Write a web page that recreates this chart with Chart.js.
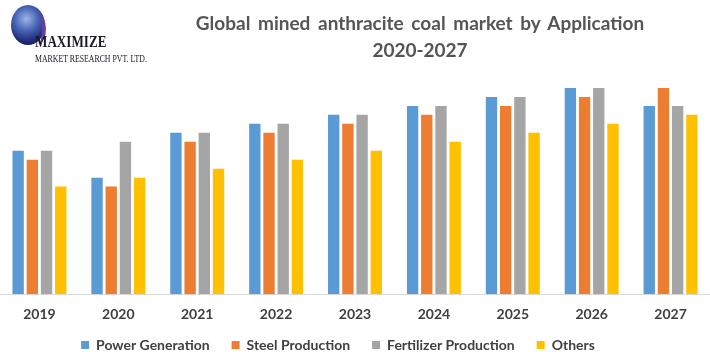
<!DOCTYPE html>
<html>
<head>
<meta charset="utf-8">
<script src="https://cdn.jsdelivr.net/npm/chart.js@4"></script>
<style>
  html, body { margin: 0; padding: 0; background: #fff; }
  #wrap { position: relative; width: 710px; height: 361px; overflow: hidden; }
  #title {
    position: absolute; left: 130px; width: 580px; top: 9px;
    text-align: center; font: bold 19px Lato, sans-serif; color: #555555;
    line-height: 27px; word-spacing: 3px;
  }
  #globe {
    position: absolute; left: 11px; top: 5px; width: 34px; height: 40px; border-radius: 50%;
    background: radial-gradient(circle at 45% 35%, #9fb6e6 0%, #4a68b8 35%, #1d2a78 70%, #10163f 100%);
  }
  #swoosh {
    position: absolute; left: 30px; top: 14px; width: 16px; height: 30px; border-radius: 50%;
    border-right: 4px solid #6a3f9a; box-sizing: border-box;
  }
  #brand1 {
    position: absolute; left: 35px; top: 33px; font: bold 16px "Liberation Serif", serif;
    color: #1a1a2a; transform: scaleX(0.82); transform-origin: left;
  }
  #brand2 {
    position: absolute; left: 35px; top: 53px; font: 10px "Liberation Serif", serif;
    color: #1a1a2a; transform: scaleX(0.78); transform-origin: left;
  }
  canvas { position: absolute; left: 0; top: 0; }
</style>
</head>
<body>
<div id="wrap">
  <canvas id="c" width="710" height="361"></canvas>
  <div id="globe"></div>
  <div id="swoosh"></div>
  <div id="brand1">MAXIMIZE</div>
  <div id="brand2">MARKET RESEARCH PVT. LTD.</div>
  <div id="title">Global mined anthracite coal market by Application<br>2020-2027</div>
</div>
<script>
const years = ['2019', '2020', '2021', '2022', '2023', '2024', '2025', '2026', '2027'];
const powerGeneration = [16, 13, 18, 19, 20, 21, 22, 23, 21];
const steelProduction = [15, 12, 17, 18, 19, 20, 21, 22, 23];
const fertilizerProduction = [16, 17, 18, 19, 20, 21, 22, 23, 21];
const others = [12, 13, 14, 15, 16, 17, 18, 19, 20];

const blue = '#5B9BD5';
const orange = '#ED7D31';
const gray = '#A5A5A5';
const yellow = '#FFC000';
const textCol = '#404040';

// wider gaps between legend items without a taller legend box
const legendTweak = {
  id: 'legendTweak',
  afterInit(chart) {
    const lg = chart.legend;
    const fit = lg.fit;
    lg.fit = function () { fit.call(this); this.height = 34; };
  },
  afterLayout(chart) {
    const lg = chart.legend;
    lg.top -= 11; lg.bottom -= 11;
    lg.left -= 17; lg.right -= 17;
  }
};

new Chart(document.getElementById('c'), {
  type: 'bar',
  data: {
    labels: years,
    datasets: [
      { label: 'Power Generation', data: powerGeneration, backgroundColor: blue },
      { label: 'Steel Production', data: steelProduction, backgroundColor: orange },
      { label: 'Fertilizer Production', data: fertilizerProduction, backgroundColor: gray },
      { label: 'Others', data: others, backgroundColor: yellow }
    ]
  },
  options: {
    responsive: false,
    animation: false,
    layout: { padding: { top: 79, left: 0, right: 0, bottom: 0 } },
    datasets: { bar: { categoryPercentage: 0.72, barPercentage: 0.8 } },
    plugins: {
      title: { display: false },
      tooltip: { enabled: false },
      legend: {
        position: 'bottom',
        labels: {
          boxWidth: 8, boxHeight: 8, padding: 22,
          color: textCol,
          font: { family: 'Lato', size: 14, weight: 'bold' }
        }
      }
    },
    scales: {
      x: {
        grid: { display: false },
        border: { color: '#D9D9D9', width: 1 },
        ticks: { color: textCol, padding: 4, font: { family: 'Lato', size: 14, weight: 'bold' } }
      },
      y: {
        display: false,
        min: 0, max: 24
      }
    }
  },
  plugins: [legendTweak]
});
</script>
</body>
</html>
